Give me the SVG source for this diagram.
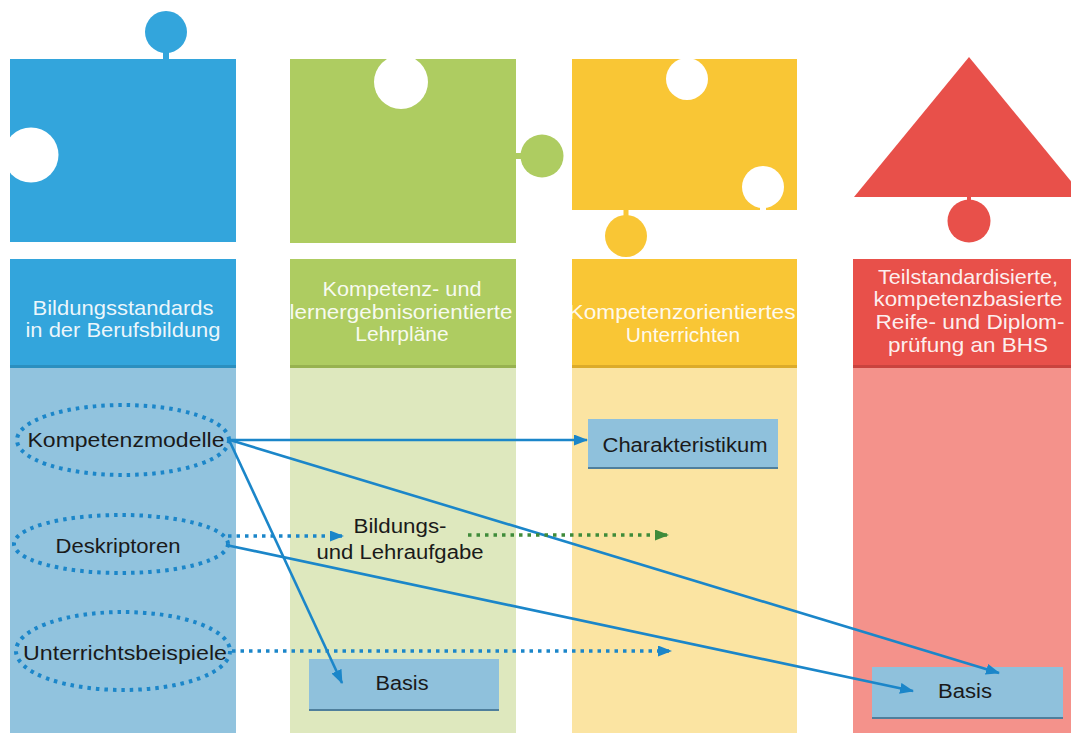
<svg xmlns="http://www.w3.org/2000/svg" width="1071" height="733" viewBox="0 0 1071 733">
  <defs>
    <marker id="arrBlue" viewBox="0 0 14 11" refX="13" refY="5.5" markerWidth="14" markerHeight="11" markerUnits="userSpaceOnUse" orient="auto">
      <path d="M0,0 L14,5.5 L0,11 z" fill="#1b86c9"/>
    </marker>
    <marker id="arrGreen" viewBox="0 0 14 11" refX="13" refY="5.5" markerWidth="14" markerHeight="11" markerUnits="userSpaceOnUse" orient="auto">
      <path d="M0,0 L14,5.5 L0,11 z" fill="#3f8b3a"/>
    </marker>
  </defs>
  <style>
    .hdr { font-family: "Liberation Sans", Arial, sans-serif; font-size: 21px; fill: #ffffff; fill-opacity: 0.92; text-anchor: middle; }
    .lbl { font-family: "Liberation Sans", Arial, sans-serif; font-size: 20px; fill: #1a1a1a; text-anchor: middle; }
    .solid { fill: none; stroke: #1b86c9; stroke-width: 2.6; marker-end: url(#arrBlue); }
    .dotB { fill: none; stroke: #1b86c9; stroke-width: 3.6; stroke-dasharray: 3.5 5; marker-end: url(#arrBlue); }
    .dotG { fill: none; stroke: #3f8b3a; stroke-width: 3.6; stroke-dasharray: 3.5 5; marker-end: url(#arrGreen); }
    .oval { fill: none; stroke: #1b86c9; stroke-width: 4; stroke-dasharray: 3.5 5; }
    .box { fill: #8fc1dc; }
    .boxedge { stroke: #4f7f9c; stroke-width: 2; }
  </style>

  <rect width="1071" height="733" fill="#ffffff"/>

  <!-- column backgrounds -->
  <g id="columns">
    <rect x="10" y="368" width="226" height="365" fill="#91c3de"/>
    <rect x="290" y="368" width="226" height="365" fill="#dee8be"/>
    <rect x="572" y="368" width="225" height="365" fill="#fbe4a2"/>
    <rect x="853" y="368" width="218" height="365" fill="#f4928b"/>
  </g>

  <!-- puzzle pieces -->
  <g id="piece-blue">
    <rect x="10" y="59" width="226" height="183" fill="#33a5dc"/>
    <rect x="163" y="48" width="6" height="12" fill="#33a5dc"/>
    <circle cx="166" cy="32" r="21" fill="#33a5dc"/>
    <circle cx="31" cy="155" r="27.5" fill="#ffffff"/>
  </g>
  <g id="piece-green">
    <rect x="290" y="59" width="226" height="184" fill="#aecc61"/>
    <circle cx="401" cy="82" r="27" fill="#ffffff"/>
    <rect x="515" y="153" width="8" height="6" fill="#aecc61"/>
    <circle cx="542" cy="156" r="21.5" fill="#aecc61"/>
  </g>
  <g id="piece-yellow">
    <rect x="572" y="59" width="225" height="151" fill="#f9c635"/>
    <circle cx="687" cy="79" r="21" fill="#ffffff"/>
    <circle cx="763" cy="187" r="21" fill="#ffffff"/>
    <rect x="760" y="200" width="6" height="11" fill="#ffffff"/>
    <rect x="623.5" y="209" width="5" height="8" fill="#f9c635"/>
    <circle cx="626" cy="236" r="21" fill="#f9c635"/>
  </g>
  <g id="piece-red">
    <polygon points="969,57 854,197 1084,197" fill="#e8504a"/>
    <rect x="967" y="196" width="4" height="6" fill="#e8504a"/>
    <circle cx="969" cy="221" r="21.5" fill="#e8504a"/>
  </g>

  <!-- column headers -->
  <g id="header-blue">
    <rect x="10" y="259" width="226" height="109" fill="#33a5dc"/>
    <rect x="10" y="365" width="226" height="3" fill="#2b8fbf"/>
    <text class="hdr" x="123" y="315" textLength="181" lengthAdjust="spacingAndGlyphs">Bildungsstandards</text>
    <text class="hdr" x="123" y="337" textLength="195" lengthAdjust="spacingAndGlyphs">in der Berufsbildung</text>
  </g>
  <g id="header-green">
    <rect x="290" y="259" width="226" height="109" fill="#aecc61"/>
    <rect x="290" y="365" width="226" height="3" fill="#97b24f"/>
    <text class="hdr" x="402" y="296" textLength="159" lengthAdjust="spacingAndGlyphs">Kompetenz- und</text>
    <text class="hdr" x="401" y="319" textLength="223" lengthAdjust="spacingAndGlyphs">lernergebnisorientierte</text>
    <text class="hdr" x="402" y="341">Lehrpläne</text>
  </g>
  <g id="header-yellow">
    <rect x="572" y="259" width="225" height="109" fill="#f9c635"/>
    <rect x="572" y="365" width="225" height="3" fill="#dcab2a"/>
    <text class="hdr" x="682" y="319" textLength="227" lengthAdjust="spacingAndGlyphs">Kompetenzorientiertes</text>
    <text class="hdr" x="683" y="342">Unterrichten</text>
  </g>
  <g id="header-red">
    <rect x="853" y="259" width="218" height="109" fill="#e8504a"/>
    <rect x="853" y="365" width="218" height="3" fill="#c9433e"/>
    <text class="hdr" x="968" y="284" textLength="180" lengthAdjust="spacingAndGlyphs">Teilstandardisierte,</text>
    <text class="hdr" x="968" y="306" textLength="189" lengthAdjust="spacingAndGlyphs">kompetenzbasierte</text>
    <text class="hdr" x="970" y="329" textLength="189" lengthAdjust="spacingAndGlyphs">Reife- und Diplom-</text>
    <text class="hdr" x="968" y="352" textLength="160" lengthAdjust="spacingAndGlyphs">prüfung an BHS</text>
  </g>

  <!-- source items -->
  <g id="kompetenzmodelle">
    <ellipse class="oval" cx="123" cy="440" rx="106" ry="35"/>
    <text class="lbl" x="126" y="447" textLength="197" lengthAdjust="spacingAndGlyphs">Kompetenzmodelle</text>
  </g>
  <g id="deskriptoren">
    <ellipse class="oval" cx="121" cy="544" rx="107" ry="29"/>
    <text class="lbl" x="118" y="553" textLength="125" lengthAdjust="spacingAndGlyphs">Deskriptoren</text>
  </g>
  <g id="unterrichtsbeispiele">
    <ellipse class="oval" cx="123" cy="651" rx="107" ry="39"/>
    <text class="lbl" x="125" y="660" textLength="204" lengthAdjust="spacingAndGlyphs">Unterrichtsbeispiele</text>
  </g>

  <!-- target items -->
  <g id="bildungsaufgabe">
    <text class="lbl" x="400" y="533" textLength="93" lengthAdjust="spacingAndGlyphs">Bildungs-</text>
    <text class="lbl" x="400" y="559" textLength="167" lengthAdjust="spacingAndGlyphs">und Lehraufgabe</text>
  </g>
  <g id="charakteristikum">
    <rect class="box" x="588" y="419" width="190" height="49"/>
    <line class="boxedge" x1="588" y1="468" x2="778" y2="468"/>
    <text class="lbl" x="685" y="452" textLength="165" lengthAdjust="spacingAndGlyphs">Charakteristikum</text>
  </g>
  <g id="basis-lehrplan">
    <rect class="box" x="309" y="659" width="190" height="51"/>
    <line class="boxedge" x1="309" y1="710" x2="499" y2="710"/>
    <text class="lbl" x="402" y="690" textLength="53" lengthAdjust="spacingAndGlyphs">Basis</text>
  </g>
  <g id="basis-pruefung">
    <rect class="box" x="872" y="667" width="191" height="51"/>
    <line class="boxedge" x1="872" y1="718" x2="1063" y2="718"/>
    <text class="lbl" x="965" y="698" textLength="54" lengthAdjust="spacingAndGlyphs">Basis</text>
  </g>

  <!-- connectors -->
  <g id="connectors">
    <path class="solid" d="M230,440 L587,440"/>
    <path class="solid" d="M230,440 L999,673"/>
    <path class="solid" d="M230,442 L342,683"/>
    <path class="solid" d="M226,545 L913,691"/>
    <path class="dotB" d="M228,536 L343,536"/>
    <path class="dotG" d="M468,535 L668,535"/>
    <path class="dotB" d="M232,651 L671,651"/>
  </g>
</svg>
